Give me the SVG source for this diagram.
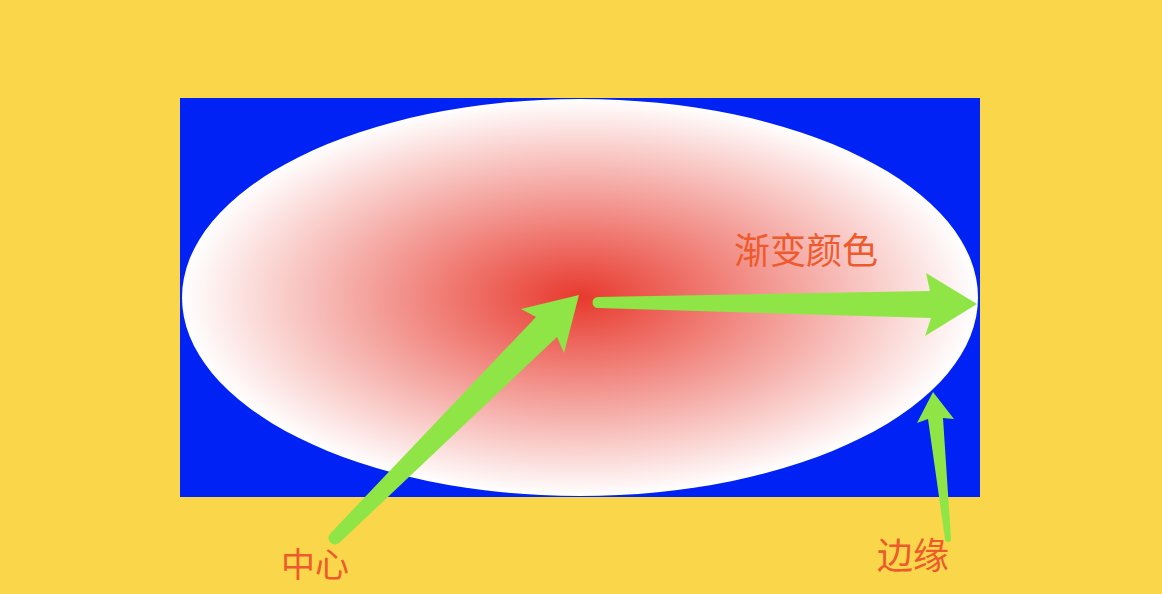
<svg xmlns="http://www.w3.org/2000/svg" width="1162" height="594" viewBox="0 0 1162 594">
  <style>
    .arrow { fill: #8FE546; }
    .label { font-family: "Noto Sans CJK SC", "Noto Sans", sans-serif; fill: #EE5A2C; }
  </style>
  <defs>
    <radialGradient id="grad" cx="50%" cy="50%" r="50%">
      <stop offset="0" stop-color="#E8392D"/>
      <stop offset="1" stop-color="#FFFFFF"/>
    </radialGradient>
  </defs>
  <rect x="0" y="0" width="1162" height="594" fill="#F9D64A"/>
  <g id="canvas">
    <rect x="180" y="98" width="800" height="399" fill="#0022F5"/>
    <ellipse cx="580" cy="297.5" rx="398" ry="198.5" fill="url(#grad)"/>
  </g>
  <g id="connectors">
    <path class="arrow" d="M 330.4 533.4 L 536 317 L 521 309 L 579 295 L 564 353 L 557 337 L 339.6 542.6 A 6.5 6.5 0 0 1 330.4 533.4 Z"/>
    <path class="arrow" d="M 598 297 L 930 291 L 926 273 L 977 304 L 925 336 L 931 318 L 598 308 A 5.5 5.5 0 0 1 598 297 Z"/>
    <path class="arrow" d="M 951 539 L 943 418 L 954 419 L 933 392 L 917 423 L 928 419 L 945 539 A 3 3 0 0 0 951 539 Z"/>
  </g>
  <g id="label-gradient">
    <text class="label" x="734" y="264" font-size="36">渐变颜色</text>
  </g>
  <g id="label-center">
    <text class="label" x="281" y="577" font-size="34">中心</text>
  </g>
  <g id="label-edge">
    <text class="label" x="877" y="569" font-size="36">边缘</text>
  </g>
</svg>
